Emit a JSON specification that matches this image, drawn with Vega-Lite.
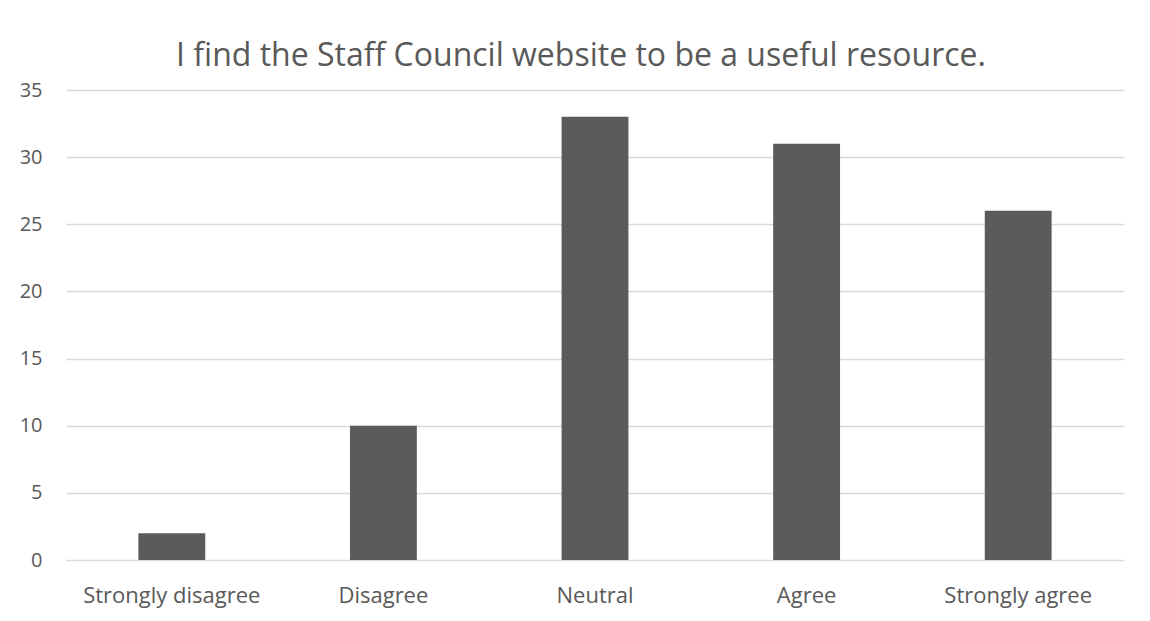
{
  "$schema": "https://vega.github.io/schema/vega-lite/v6.json",
  "autosize": {"type": "none"},
  "width": 1058,
  "height": 470,
  "padding": {"left": 66, "top": 90, "right": 26, "bottom": 61},
  "background": "white",
  "title": {
    "text": "I find the Staff Council website to be a useful resource.",
    "font": "Open Sans",
    "fontSize": 32,
    "fontWeight": "normal",
    "color": "#595959",
    "anchor": "middle",
    "dx": -14,
    "offset": 7
  },
  "data": {
    "values": [
      {"response": "Strongly disagree", "count": 2},
      {"response": "Disagree", "count": 10},
      {"response": "Neutral", "count": 33},
      {"response": "Agree", "count": 31},
      {"response": "Strongly agree", "count": 26}
    ]
  },
  "mark": {"type": "bar", "color": "#5b5b5b"},
  "encoding": {
    "x": {
      "field": "response",
      "type": "nominal",
      "sort": null,
      "scale": {"paddingInner": 0.684, "paddingOuter": 0.342},
      "axis": {
        "title": null,
        "labelAngle": 0,
        "labelFont": "Open Sans",
        "labelFontSize": 22,
        "labelColor": "#595959",
        "ticks": false,
        "domain": true,
        "domainColor": "#d9d9d9",
        "labelPadding": 25
      }
    },
    "y": {
      "field": "count",
      "type": "quantitative",
      "scale": {"domain": [0, 35]},
      "axis": {
        "title": null,
        "values": [0, 5, 10, 15, 20, 25, 30, 35],
        "labelFont": "Open Sans",
        "labelFontSize": 20,
        "labelColor": "#595959",
        "ticks": false,
        "domain": false,
        "gridColor": "#d9d9d9",
        "gridWidth": 1.3,
        "labelPadding": 24
      }
    }
  },
  "config": {"view": {"stroke": null}}
}
